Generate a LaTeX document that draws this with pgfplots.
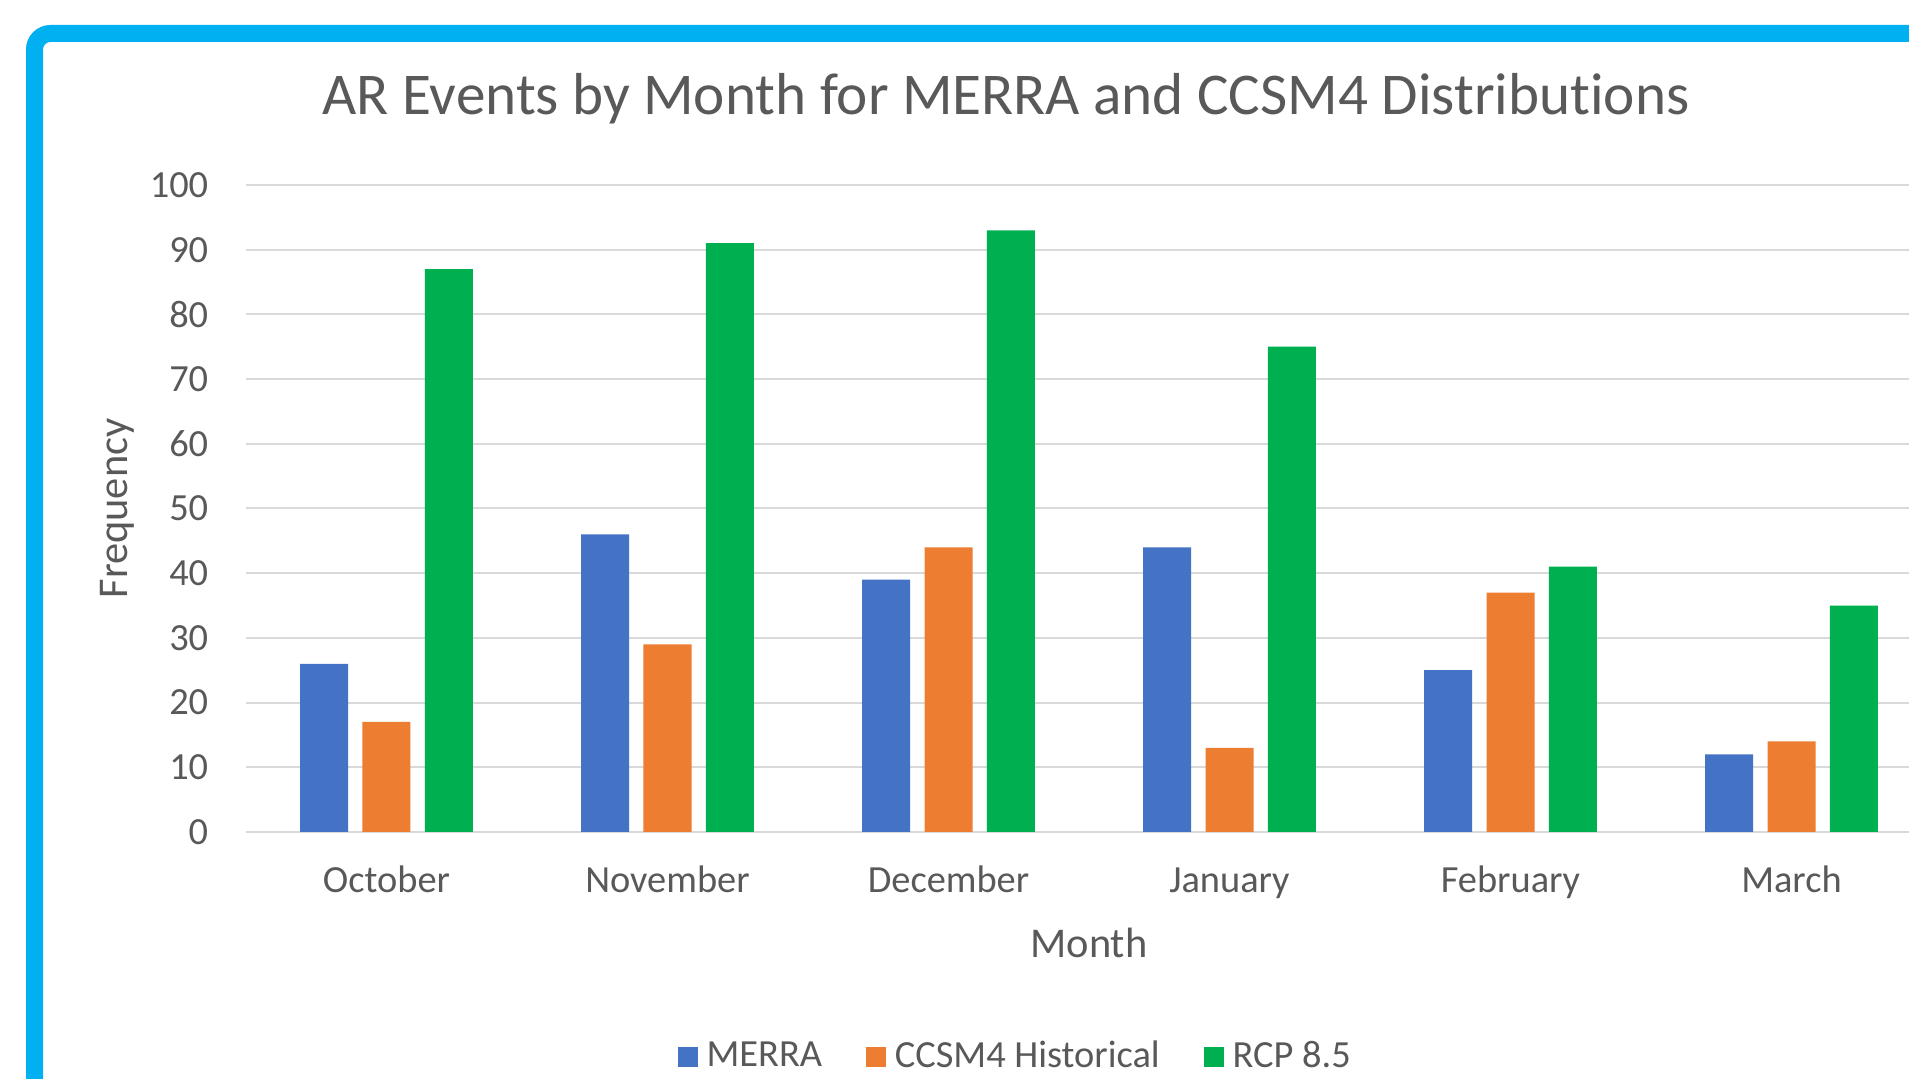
\documentclass[border=0pt]{standalone}
\usepackage{fontspec}
\setmainfont{Carlito}[Ligatures=NoCommon]
\usepackage{pgfplots}
\pgfplotsset{compat=1.18}
\definecolor{cMerra}{HTML}{4472C4}
\definecolor{cCcsm}{HTML}{ED7D31}
\definecolor{cRcp}{HTML}{00B050}
\definecolor{cTxt}{HTML}{595959}
\definecolor{cGrid}{HTML}{D9D9D9}
\definecolor{cFrame}{HTML}{00B0F0}
\begin{document}
\begin{tikzpicture}
\path[use as bounding box] (0,0) rectangle (477.25pt,269.75pt);
\clip (0,0) rectangle (477.25pt,269.75pt);
\fill[white] (0,0) rectangle (477.25pt,269.75pt);
\draw[cFrame, line width=4.25pt, rounded corners=4pt] (8.625pt,-50pt) -- (8.625pt,261.375pt) -- (550pt,261.375pt);
\begin{axis}[
  at={(61.5pt,61.75pt)}, anchor=south west,
  scale only axis, width=421.5pt, height=161.75pt,
  xmin=-0.5, xmax=5.5, ymin=0, ymax=100,
  ybar=3.6pt, bar width=12pt,
  xtick={0,1,2,3,4,5},
  xticklabels={October,November,December,January,February,March},
  ytick={0,10,...,100},
  /pgf/number format/assume math mode=true,
  axis line style={draw=none},
  major tick length=0pt,
  ymajorgrids, major grid style={draw=cGrid, line width=0.5pt},
  tick label style={font=\fontsize{9.6}{11}\selectfont, text=cTxt},
  yticklabel style={anchor=east, inner sep=0pt, xshift=-9.25pt},
  xticklabel style={anchor=base, inner sep=0pt, yshift=-15.25pt},
  title={AR Events by Month for MERRA and CCSM4 Distributions},
  every axis title/.style={at={(axis description cs:0.4508,1.1082)}, anchor=base, font=\fontsize{14.8}{17}\selectfont, text=cTxt, inner sep=0pt},
  xlabel={Month},
  ylabel={Frequency},
  every axis x label/.style={at={(axis description cs:0.5,-0.1947)}, anchor=base, font=\fontsize{10.6}{12}\selectfont, text=cTxt, inner sep=0pt},
  every axis y label/.style={at={(axis description cs:-0.0700,0.5)}, rotate=90, anchor=base, font=\fontsize{10.6}{12}\selectfont, text=cTxt, inner sep=0pt},
  legend columns=3,
  legend style={at={(axis description cs:0.4558,-0.3485)}, anchor=center, draw=none, fill=none,
    font=\fontsize{9.6}{11}\selectfont, text=cTxt,
    nodes={inner sep=0pt},
    /tikz/every odd column/.append style={column sep=2.1pt},
    /tikz/every even column/.append style={column sep=11.1pt}},
  legend image code/.code={\fill[#1] (0pt,-2.5pt) rectangle (5pt,2.5pt);},
]
\addplot[fill=cMerra, draw=none] coordinates {(0,26) (1,46) (2,39) (3,44) (4,25) (5,12)};
\addplot[fill=cCcsm, draw=none] coordinates {(0,17) (1,29) (2,44) (3,13) (4,37) (5,14)};
\addplot[fill=cRcp, draw=none] coordinates {(0,87) (1,91) (2,93) (3,75) (4,41) (5,35)};
\legend{MERRA, CCSM4 Historical, RCP 8.5}
\end{axis}
\end{tikzpicture}
\end{document}
